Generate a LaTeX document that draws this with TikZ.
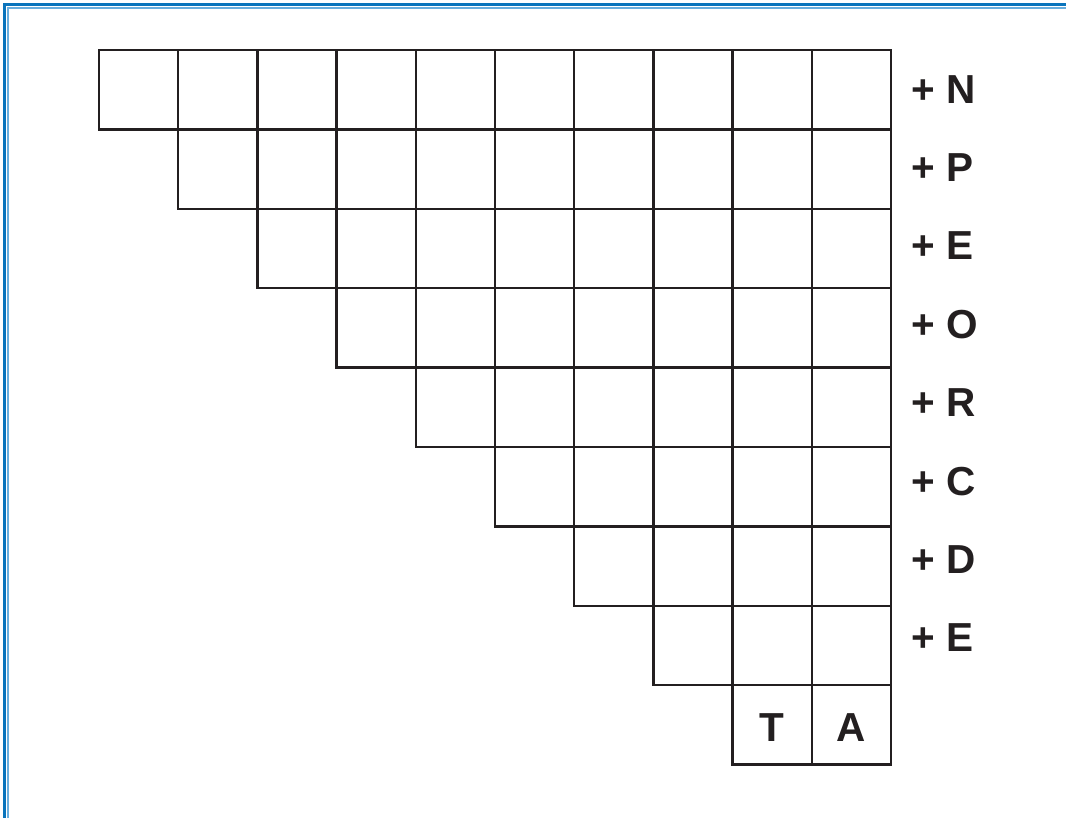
\documentclass[tikz,border=0pt]{standalone}
\usepackage{fontspec}
\setmainfont{Liberation Sans}
\begin{document}
\begin{tikzpicture}[x=1pt,y=-1pt,
  cell/.style={draw=gridcol,line width=2.4pt,minimum size=79.3pt,inner sep=0pt},
  letter/.style={inner sep=0pt,font=\fontsize{40.5}{40.5}\selectfont\bfseries,text=gridcol},
  lbl/.style={anchor=west,inner sep=0pt,font=\fontsize{40.5}{40.5}\selectfont\bfseries,text=gridcol}]
\definecolor{gridcol}{HTML}{231F20}
\definecolor{frameblue}{HTML}{0A74BC}
\definecolor{framelight}{HTML}{6AAEDD}
\useasboundingbox (0,0) rectangle (1066,818);
\fill[white] (0,0) rectangle (1066,818);
% frame
\draw[frameblue,line width=3pt] (4.5,818) -- (4.5,4.5) -- (1066,4.5);
\draw[framelight,line width=1.3pt] (8,818) -- (8,8) -- (1066,8);
% grid cells
\foreach \r in {0,...,7}{
  \foreach \c in {\r,...,9}{
    \node[cell] (c-\r-\c) at ({99+79.2*\c+39.6},{50+79.4*\r+39.7}) {};
  }
}
\node[cell] (c-8-8) at ({99+79.2*8+39.6},{50+79.4*8+39.7}) {};
\node[cell] (c-8-9) at ({99+79.2*9+39.6},{50+79.4*8+39.7}) {};
\node[letter] (tT) at ([yshift=-3pt]c-8-8.center) {T};
\node[letter] (tA) at ([yshift=-3pt]c-8-9.center) {A};
% labels
\node[lbl] (l0) at (911,89.5) {+ N};
\node[lbl] (l1) at (911,167.5) {+ P};
\node[lbl] (l2) at (911,245.5) {+ E};
\node[lbl] (l3) at (911,324.5) {+ O};
\node[lbl] (l4) at (911,402.5) {+ R};
\node[lbl] (l5) at (911,481.5) {+ C};
\node[lbl] (l6) at (911,559.5) {+ D};
\node[lbl] (l7) at (911,637.5) {+ E};
\end{tikzpicture}
\end{document}
